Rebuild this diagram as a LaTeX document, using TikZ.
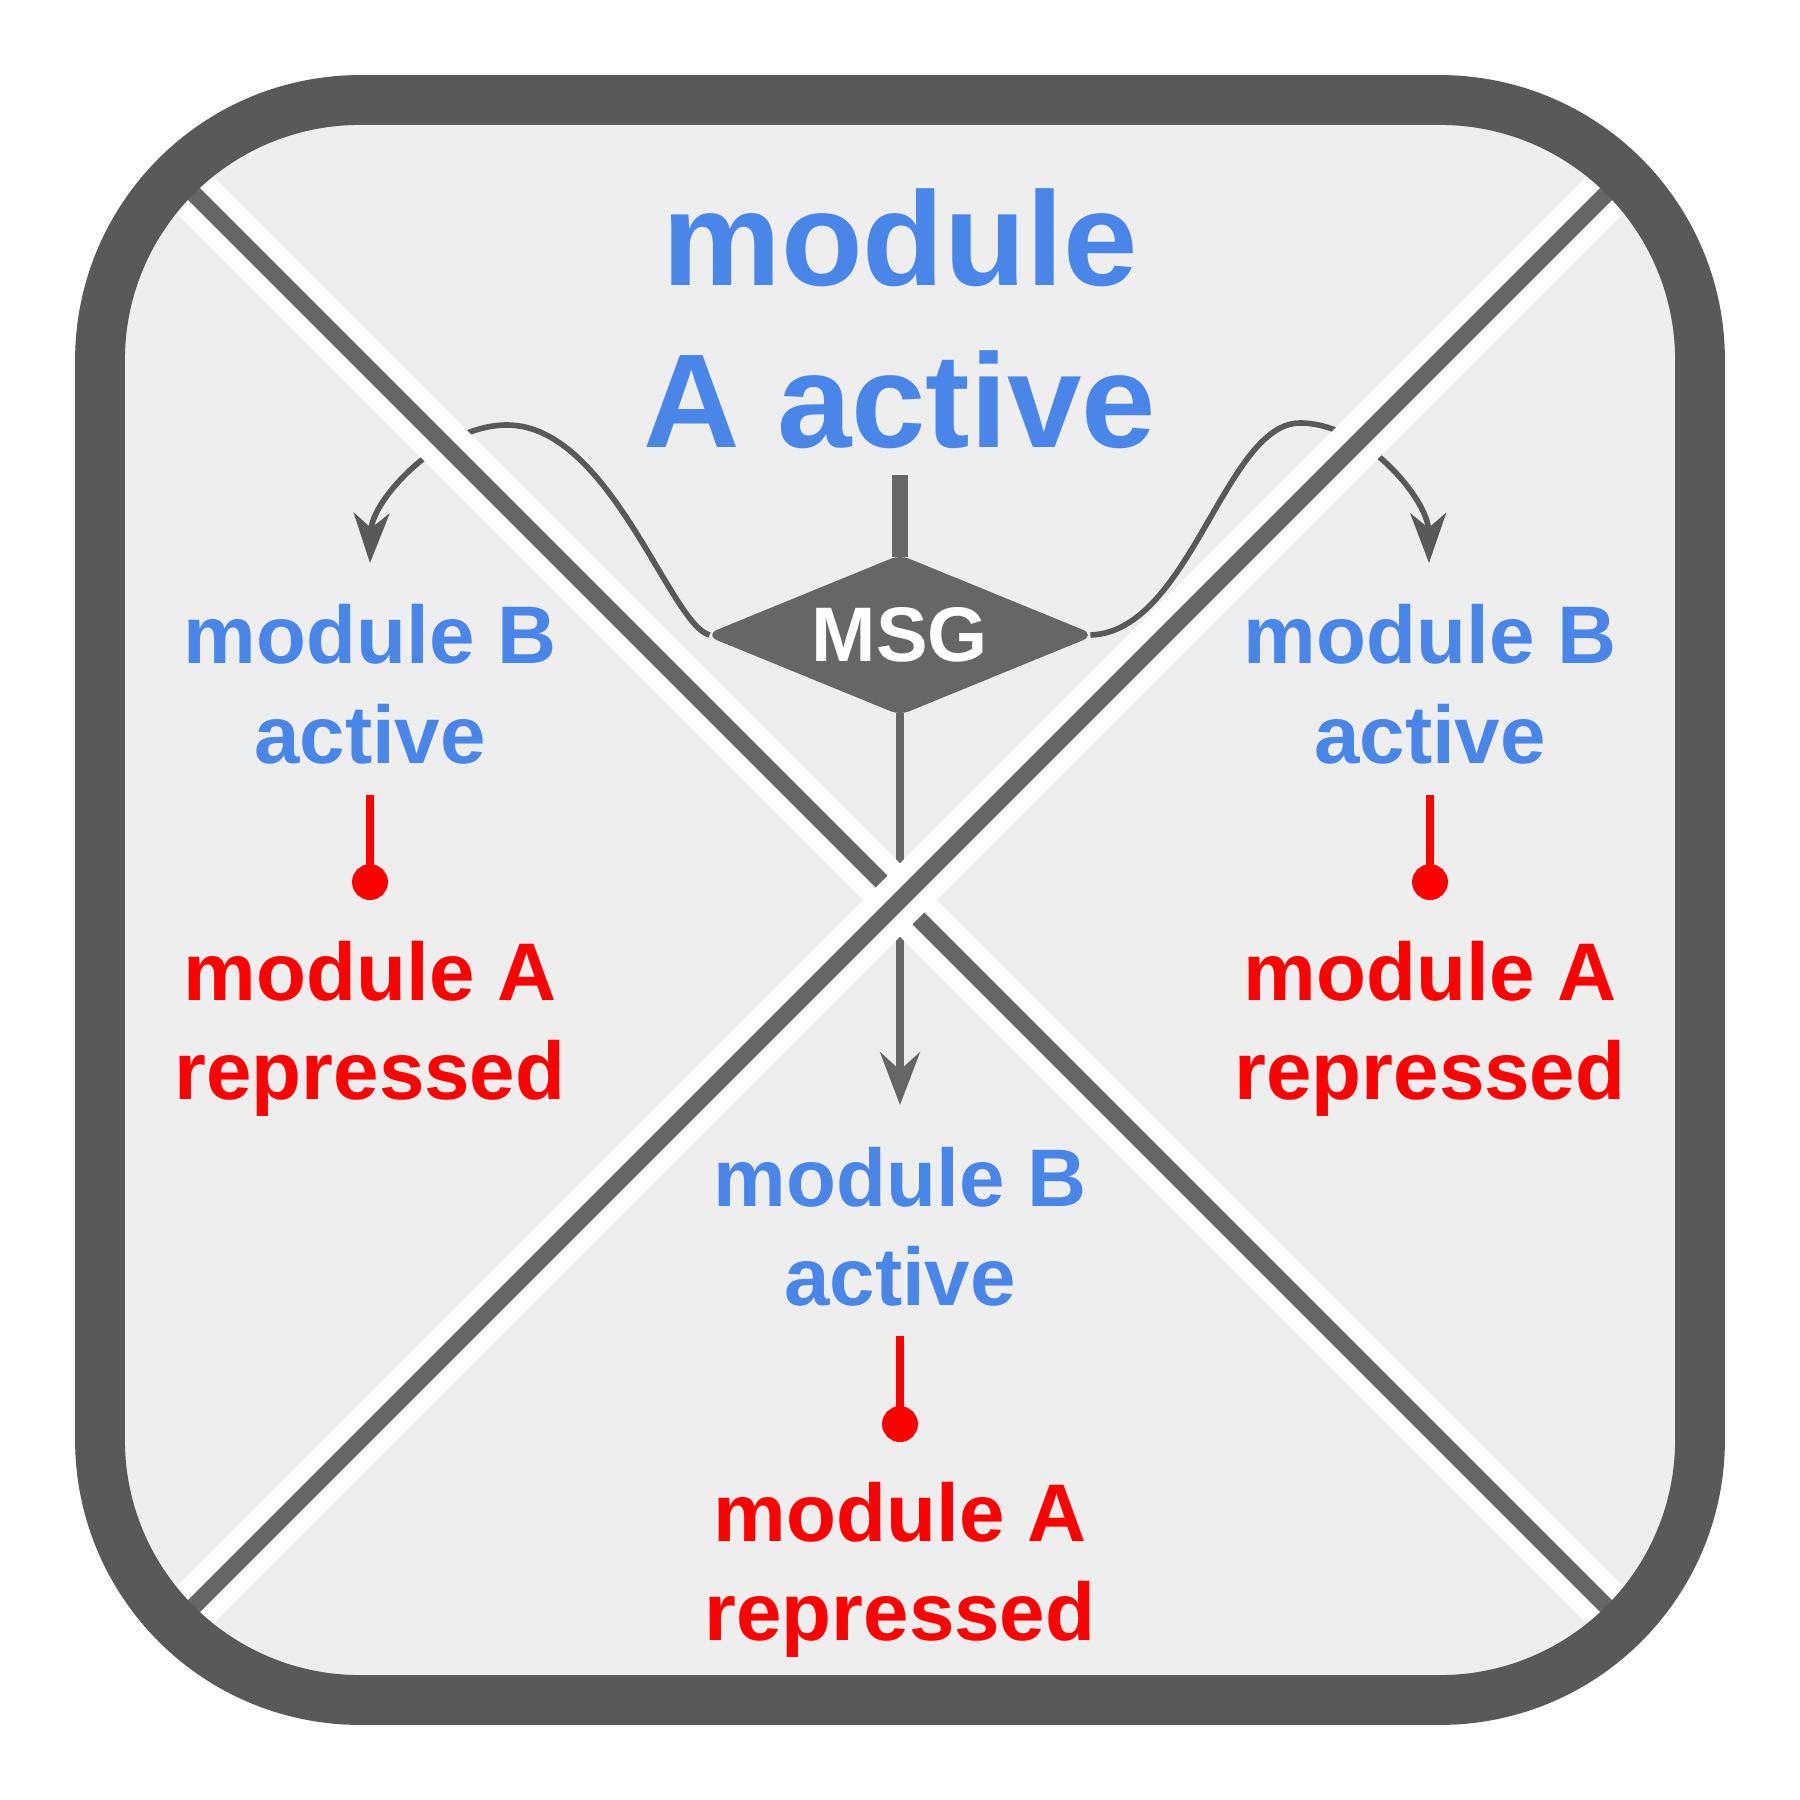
\documentclass[tikz,border=0pt]{standalone}
\usepackage{fontspec}
\setmainfont{Liberation Sans}
\usetikzlibrary{arrows.meta,shapes.geometric}
\definecolor{gblue}{HTML}{4A86E8}
\definecolor{framegray}{HTML}{595959}
\definecolor{linegray}{HTML}{666666}
\definecolor{bggray}{HTML}{EEEEEE}
\definecolor{curvegray}{HTML}{595959}
\definecolor{inhred}{HTML}{FF0000}
\begin{document}
\begin{tikzpicture}[x=0.01cm,y=-0.01cm,
  bigtxt/.style={font=\fontsize{38}{45}\selectfont\bfseries, text=gblue, anchor=base, inner sep=0},
  bluetxt/.style={font=\fontsize{23.25}{27.5}\selectfont\bfseries, text=gblue, anchor=base, inner sep=0},
  redtxt/.style={font=\fontsize{23.25}{27.5}\selectfont\bfseries, text=inhred, anchor=base, inner sep=0},
  curvearrow/.style={draw=curvegray, line width=1.6pt, -{Stealth[length=14.2pt,width=10.2pt,inset=4.25pt]}},
  downarrow/.style={draw=linegray, line width=2.27pt, -{Stealth[length=15pt,width=11.3pt,inset=5.1pt]}},
  stemline/.style={draw=linegray, line width=4.82pt},
  inhibit/.style={draw=inhred, line width=2.27pt, -{Circle[length=10.2pt]}},
  diagwhite/.style={draw=white, line width=14.74pt},
  diagdark/.style={draw=linegray, line width=4.82pt},
  msgbox/.style={diamond, aspect=2.41, minimum width=108.3pt, minimum height=44.3pt, inner sep=0, outer sep=0,
    fill=linegray, draw=linegray, line width=1.13pt, rounded corners=2.5pt, text=white,
    font=\fontsize{22}{26}\selectfont\bfseries}
]
\useasboundingbox[fill=white] (0,0) rectangle (1800,1800);
% background
\fill[bggray, rounded corners=2.6cm] (100,100) rectangle (1700,1700);
% MSG diamond
\node[msgbox] (msg) at (900,635) {MSG};
\coordinate (ltip) at (370,563);
\coordinate (rtip) at (1429,563);
\coordinate (downtip) at (900,1105);
\coordinate (stemtop) at (900,475);
\begin{scope}
  \clip[rounded corners=2.6cm] (100,100) rectangle (1700,1700);
  \draw[curvearrow] (msg.west) .. controls (670,625) and (610,425) .. (507,425)
        .. controls (440,425) and (372,500) .. (ltip);
  \draw[curvearrow] (msg.east) .. controls (1190,632) and (1225,423) .. (1300,423)
        .. controls (1365,423) and (1428,500) .. (rtip);
  \draw[downarrow] (msg.south) -- (downtip);
  \draw[diagwhite] (0,0) -- (1800,1800);
  \draw[diagdark] (0,0) -- (1800,1800);
  \draw[diagwhite] (0,1800) -- (1800,0);
  \draw[diagdark] (0,1800) -- (1800,0);
\end{scope}
% frame
\draw[framegray, line width=14.17pt, rounded corners=2.6cm] (100,100) rectangle (1700,1700);
% stem into MSG
\draw[stemline] (stemtop) -- (msg.north);
% title
\node[bigtxt] (t1) at (900,285) {module};
\node[bigtxt] (t2) at (900,447) {A active};
% left block
\node[bluetxt] (lb1) at (370,663) {module B};
\node[bluetxt] (lb2) at (370,763) {active};
\coordinate (li1) at (370,795);
\coordinate (li2) at (370,900);
\draw[inhibit] (li1) -- (li2);
\node[redtxt] (lr1) at (370,1000) {module A};
\node[redtxt] (lr2) at (370,1099) {repressed};
% right block
\node[bluetxt] (rb1) at (1430,663) {module B};
\node[bluetxt] (rb2) at (1430,763) {active};
\coordinate (ri1) at (1430,795);
\coordinate (ri2) at (1430,900);
\draw[inhibit] (ri1) -- (ri2);
\node[redtxt] (rr1) at (1430,1000) {module A};
\node[redtxt] (rr2) at (1430,1099) {repressed};
% bottom block
\node[bluetxt] (bb1) at (900,1206) {module B};
\node[bluetxt] (bb2) at (900,1305) {active};
\coordinate (bi1) at (900,1336);
\coordinate (bi2) at (900,1442);
\draw[inhibit] (bi1) -- (bi2);
\node[redtxt] (br1) at (900,1541) {module A};
\node[redtxt] (br2) at (900,1640) {repressed};
\end{tikzpicture}
\end{document}
